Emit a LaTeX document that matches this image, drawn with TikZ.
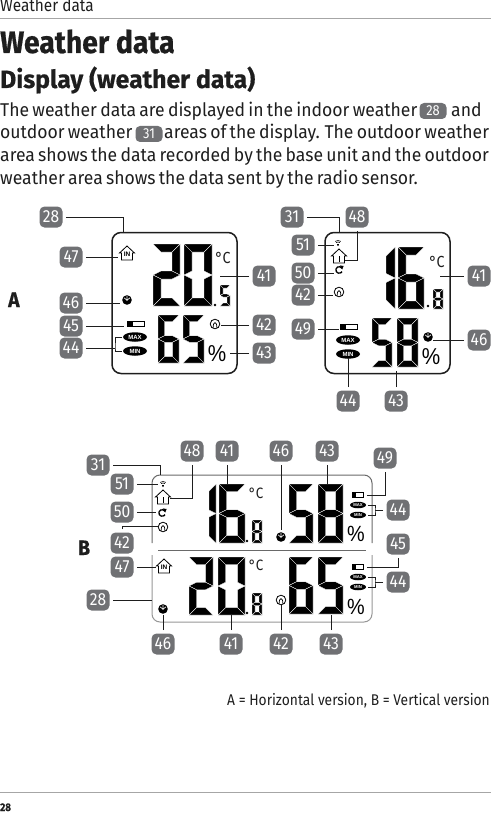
\documentclass[tikz,border=0pt]{standalone}
\usepackage{fontspec}
\setmainfont{Fira Sans}[FakeStretch=.89,BoldFeatures={FakeBold=.35}]
\newfontfamily\hA{Fira Sans}[FakeStretch=.915,BoldFeatures={FakeBold=.6}]
\newfontfamily\hB{Fira Sans}[FakeStretch=.99,BoldFeatures={FakeBold=.5}]
\newfontfamily\bodyf{Fira Sans}[FakeStretch=.95,WordSpace=.7]
\newfontfamily\lcdfont{Liberation Sans}
\usetikzlibrary{shapes.geometric,arrows.meta}
\definecolor{bdg}{RGB}{112,113,116}
\definecolor{ink}{RGB}{30,30,30}
\definecolor{pline}{RGB}{105,105,105}
\definecolor{pline2}{RGB}{150,150,150}
\newcommand\fs[1]{\fontsize{#1}{#1}\selectfont}
\tikzset{
  x=1pt,y=-1pt,
  badge/.style={fill=bdg,text=white,rounded corners=5pt,minimum width=23pt,minimum height=21pt,inner sep=0pt,outer sep=3.5pt,font=\fs{17.5}},
  ibadge/.style={fill=bdg,text=white,rounded corners=4.5pt,minimum width=27pt,minimum height=16pt,inner sep=0pt,font=\fs{14.5}},
  leader/.style={draw=ink,line width=.8pt},
  txt/.style={inner sep=0pt,anchor=base west,text=ink},
  bodytxt/.style={txt,font=\bodyf\fs{18.5}},
  panel/.style={draw=ink,line width=1.5pt,rounded corners=9pt},
  pill/.style={ellipse,fill=black,text=white,inner sep=0pt,outer sep=1.5pt},
  pillA/.style={pill,minimum width=24pt,minimum height=9.5pt,font=\lcdfont\bfseries\fs{6}},
  pillB/.style={pill,minimum width=16pt,minimum height=6.5pt,font=\lcdfont\bfseries\fs{4.2}},
  degA/.style={font=\fs{16},text=ink},
  degB/.style={font=\fs{15},text=ink},
  seg/.style={fill=black,draw=white,line width=.35pt},
  houseicon/.pic={\draw[line width=.8pt,line join=miter,fill=white] (-5.5,7)--(-5.5,0)--(-7.5,0)--(0,-7)--(7.5,0)--(5.5,0)--(5.5,7)--cycle;},
  clockicon/.pic={\fill (0,0) circle (4.8); \draw[white,line width=.6pt] (0,-3.8)--(0,.5) (-2.8,-2.2)--(0,.5)--(2.8,-2.2);},
  ringicon/.pic={\draw[line width=.8pt] (0,0) circle (4.8); \draw[line width=.7pt] (-2,4.2)--(-1.5,.2) arc (180:360:1.5)--(2,4.2);},
  refreshicon/.pic={\draw[line width=1.3pt] (3,-1.7) arc (-30:-330:3.3) ; \fill (.8,-4.6)--(4.6,-4)--(3.2,-.4)--cycle;},
  wifiicon/.pic={\foreach \r in {1.9,3.4,4.9}{\draw[line width=.6pt] (0,2.4)+(-125:\r) arc (-125:-55:\r);} \fill (0,2.4) circle (.7);},
}
\newcommand\dg[6]{\begin{scope}[shift={(#1,#2)}]
 \pgfmathsetmacro\W{#3}\pgfmathsetmacro\H{#4}\pgfmathsetmacro\T{#5}
 \pgfmathsetmacro\Wi{\W-\T}\pgfmathsetmacro\Hm{\H/2}\pgfmathsetmacro\Hu{\H/2-\T/2}\pgfmathsetmacro\Hd{\H/2+\T/2}\pgfmathsetmacro\Hi{\H-\T}
 \foreach \s in {#6}{\csname sg\s\endcsname}
 \end{scope}}
\newcommand\sga{\path[seg] (0,0)--(\W,0)--(\Wi,\T)--(\T,\T)--cycle;}
\newcommand\sgf{\path[seg] (0,0)--(\T,\T)--(\T,\Hu)--(0,\Hm)--cycle;}
\newcommand\sgb{\path[seg] (\W,0)--(\W,\Hm)--(\Wi,\Hu)--(\Wi,\T)--cycle;}
\newcommand\sgg{\path[seg] (0,\Hm)--(\T,\Hu)--(\Wi,\Hu)--(\W,\Hm)--(\Wi,\Hd)--(\T,\Hd)--cycle;}
\newcommand\sge{\path[seg] (0,\Hm)--(\T,\Hd)--(\T,\Hi)--(0,\H)--cycle;}
\newcommand\sgc{\path[seg] (\W,\Hm)--(\W,\H)--(\Wi,\Hi)--(\Wi,\Hd)--cycle;}
\newcommand\sgd{\path[seg] (0,\H)--(\T,\Hi)--(\Wi,\Hi)--(\W,\H)--cycle;}
\newcommand\batt[4]{\draw[line width=.6pt] (#1,#2-#4/2) rectangle (#1+#3,#2+#4/2); \fill (#1,#2-#4/2) rectangle (#1+#3*.35,#2+#4/2); \fill (#1+#3,#2-#4/4) rectangle (#1+#3+1,#2+#4/4);}
\newcommand\bd[4]{\node[badge] (#1) at (#2,#3) {#4};}
\begin{document}
\begin{tikzpicture}
\useasboundingbox (0,0) rectangle (491,813);
% header
\node[txt,font=\fs{17.3}] (hd) at (0,12) {Weather data};
\draw[draw=gray!70,line width=.7pt] (0,18)--(491,18);
\node[txt,font=\hA\fs{31}\bfseries] (t1) at (0,53) {Weather data};
\node[txt,font=\hB\fs{25}\bfseries] (t2) at (0,88) {Display (weather data)};
\node[bodytxt] (l1) at (0,117) {The weather data are displayed in the indoor weather};
\node[ibadge] (i28) at (433,111) {28};
\node[bodytxt] (l1b) at (451,117) {and};
\node[bodytxt] (l2a) at (0,139) {outdoor weather};
\node[ibadge] (i31) at (149,134) {31};
\node[bodytxt] (l2b) at (164,139) {areas of the display. The outdoor weather};
\node[bodytxt] (l3) at (0,161.5) {area shows the data recorded by the base unit and the outdoor};
\node[bodytxt] (l4) at (0,184) {weather area shows the data sent by the radio sensor.};
\node[txt,font=\hA\fs{21}\bfseries] (lA) at (8,307) {A};
\node[txt,font=\hA\fs{21}\bfseries] (lB) at (78,555) {B};
\node[txt,font=\fs{15.5},anchor=base east] (foot) at (490,705) {A = Horizontal version, B = Vertical version};
\draw[draw=gray!70,line width=.7pt] (0,792)--(491,792);
\node[txt,font=\fs{11}\bfseries] (pg) at (0,811) {28};

% ---------- Panel A left
\node[panel,minimum width=125pt,minimum height=141pt,inner sep=0pt] (PA) at (174.5,303) {};
\dg{153}{244}{27}{62}{8}{a,b,g,e,d}
\dg{184}{244}{28}{62}{8}{a,b,c,d,e,f}
\fill (215,305) circle (1.3);
\dg{220}{285}{10}{21}{3}{a,f,g,c,d}
\dg{158}{315}{21}{48}{6.5}{a,f,g,e,c,d}
\dg{183}{315}{21}{48}{6.5}{a,f,g,c,d}
\node[degA] (Ac) at (223,258) {°C};
\node[font=\lcdfont\fs{23},xscale=.9] (Ap) at (217,354) {\%};
\pic at (127,253) {houseicon};
\node[font=\lcdfont\bfseries\fs{6.5}] (Ain) at (127,254) {IN};
\pic at (127,300) {clockicon};
\batt{127}{324}{17}{5}
\node[pillA] (Amax) at (135,337) {MAX};
\node[pillA] (Amin) at (135,351) {MIN};
\pic at (215,324) {ringicon};
\bd{a28}{51}{217}{28}\bd{a47}{71}{257}{47}\bd{a46}{71}{303}{46}\bd{a45}{71}{326}{45}\bd{a44}{71}{348}{44}
\bd{a41}{264}{276}{41}\bd{a42}{264}{325}{42}\bd{a43}{264}{353}{43}
\coordinate (A28t) at (123,232);
\coordinate (A47t) at (118,257);
\coordinate (A46t) at (120,303);
\coordinate (A45t) at (124,326);
\coordinate (A44t) at (115,348);
\coordinate (A41t) at (220,276);
\coordinate (A42t) at (221,325);
\coordinate (A43t) at (230,353);
\draw[leader] (a28.east)-|(A28t);
\foreach \p/\q in {a47/A47t,a46/A46t,a45/A45t,a44/A44t,a41/A41t,a42/A42t,a43/A43t}{\draw[leader] (\p)--(\q);}
\draw[leader] (Amax.west)-|(A44t)|-(Amin.west);

% ---------- Panel A right
\node[panel,minimum width=125pt,minimum height=141pt,inner sep=0pt] (PB) at (387.5,303) {};
\dg{385}{247}{10}{62}{9}{b,c}
\dg{398}{247}{26}{62}{8}{a,f,g,e,c,d}
\fill (428,306) circle (1.3);
\dg{433}{289}{10}{20}{3}{a,b,c,d,e,f,g}
\dg{372}{318}{20}{49}{6.5}{a,f,g,c,d}
\dg{397}{318}{21}{49}{6.5}{a,b,c,d,e,f,g}
\node[degA] (Bc) at (437,262) {°C};
\node[font=\lcdfont\fs{23},xscale=.9] (Bp) at (431,357) {\%};
\pic at (338,243) {wifiicon};
\pic at (339,256) {houseicon};
\draw[line width=.7pt] (339,256)--(339,262);
\pic at (339,270) {refreshicon};
\pic at (339,292) {ringicon};
\batt{340}{327}{17}{5}
\node[pillA] (Bmax) at (348,340) {MAX};
\node[pillA] (Bmin) at (348,354) {MIN};
\pic at (428,337) {clockicon};
\bd{b31}{292}{217}{31}\bd{b48}{357}{217}{48}\bd{b51}{303}{245}{51}\bd{b50}{303}{273}{50}\bd{b42}{303}{295}{42}\bd{b49}{303}{329}{49}
\bd{b44}{348}{401}{44}\bd{b43}{396}{401}{43}\bd{b41}{479}{276}{41}\bd{b46}{479}{340}{46}
\coordinate (B31t) at (339,232);
\coordinate (B48t) at (345,260);
\coordinate (B51t) at (334,245);
\coordinate (B50t) at (334,273);
\coordinate (B42t) at (333,295);
\coordinate (B49t) at (339,329);
\coordinate (B44t) at (348,358);
\coordinate (B43t) at (396,371);
\coordinate (B41t) at (440,276);
\coordinate (B46t) at (433,340);
\draw[leader] (b31.east)-|(B31t);
\draw[leader] (b48.south)|-(B48t);
\foreach \p/\q in {b51/B51t,b50/B50t,b42/B42t,b49/B49t,b44/B44t,b43/B43t,b41/B41t,b46/B46t}{\draw[leader] (\p)--(\q);}

% ---------- Panel B
\draw[draw=pline,line width=1pt,rounded corners=8pt] (152,543)--(152,475)--(372,475)--(372,543);
\draw[draw=pline2,line width=1pt,rounded corners=8pt] (152,555)--(152,622)--(372,622)--(372,555);
\draw[draw=pline,line width=1pt] (158,550)--(366,550);
\dg{208}{484}{8}{59}{7}{b,c}
\dg{219}{484}{26}{59}{7.5}{a,f,g,e,c,d}
\fill (247,541) circle (1.3);
\dg{252}{520}{10}{23}{3}{a,b,c,d,e,f,g}
\dg{289}{484}{24}{59}{7.5}{a,f,g,c,d}
\dg{318}{484}{25}{59}{7.5}{a,b,c,d,e,f,g}
\dg{189}{557}{24}{58}{7.5}{a,b,g,e,d}
\dg{218}{557}{27}{58}{7.5}{a,b,c,d,e,f}
\fill (247,613) circle (1.3);
\dg{252}{593}{10}{22}{3}{a,b,c,d,e,f,g}
\dg{289}{557}{24}{57}{7.5}{a,f,g,e,c,d}
\dg{318}{557}{25}{57}{7.5}{a,f,g,c,d}
\node[degB] (Cc1) at (256,493) {°C};
\node[degB] (Cc2) at (256,565) {°C};
\node[font=\lcdfont\fs{22},xscale=.9] (Cp1) at (356,534) {\%};
\node[font=\lcdfont\fs{22},xscale=.9] (Cp2) at (356,607) {\%};
\pic at (163,484) {wifiicon};
\pic at (163,497) {houseicon};
\draw[line width=.7pt] (163,497)--(163,503);
\pic at (162,513) {refreshicon};
\pic at (163,527) {ringicon};
\pic at (164,566) {houseicon};
\node[font=\lcdfont\bfseries\fs{6.5}] (Cin) at (164,567) {IN};
\pic at (163,609) {clockicon};
\pic at (281,537) {clockicon};
\pic at (281,600) {ringicon};
\batt{352}{495}{11}{4.5}
\batt{352}{567}{11}{4.5}
\node[pillB] (Cmax1) at (358,505) {MAX};
\node[pillB] (Cmin1) at (358,515) {MIN};
\node[pillB] (Cmax2) at (358,577) {MAX};
\node[pillB] (Cmin2) at (358,587) {MIN};
\bd{c31}{98}{465}{31}\bd{c48}{192}{451}{48}\bd{c41}{227}{451}{41}\bd{c46}{281}{451}{46}\bd{c43}{327}{451}{43}\bd{c49}{385}{458}{49}
\bd{c51}{122}{484}{51}\bd{c50}{122}{512}{50}\bd{c42}{122}{543}{42}\bd{c47}{122}{567}{47}\bd{c28}{98}{600}{28}
\bd{d46}{163}{644}{46}\bd{d41}{231}{644}{41}\bd{d42}{281}{644}{42}\bd{d43}{331}{644}{43}
\bd{c44}{398}{510}{44}\bd{c45}{398}{544}{45}\bd{d44}{398}{582}{44}
\coordinate (C31t) at (160,475);
\coordinate (C48t) at (170,498);
\coordinate (C41t) at (227,484);
\coordinate (C46t) at (281,530);
\coordinate (C43t) at (327,484);
\coordinate (C49t) at (367,495);
\coordinate (C51t) at (158,484);
\coordinate (C50t) at (156,512);
\coordinate (C42t) at (158,526);
\coordinate (C47t) at (156,567);
\coordinate (C28t) at (152,600);
\coordinate (D46t) at (163,615);
\coordinate (D41t) at (231,615);
\coordinate (D42t) at (281,605);
\coordinate (D43t) at (331,615);
\coordinate (C44t) at (375,510);
\coordinate (C45t) at (367,567);
\coordinate (D44t) at (375,582);
\draw[leader] (c31.east)-|(C31t);
\draw[leader] (c48.south)|-(C48t);
\draw[leader] (c49.south)|-(C49t);
\draw[leader] (c42.north)|-(C42t);
\draw[leader] (c45.south)|-(C45t);
\foreach \p/\q in {c41/C41t,c46/C46t,c43/C43t,c51/C51t,c50/C50t,c47/C47t,c28/C28t,d46/D46t,d41/D41t,d42/D42t,d43/D43t,c44/C44t,d44/D44t}{\draw[leader] (\p)--(\q);}
\draw[leader] (Cmax1.east)-|(C44t)|-(Cmin1.east);
\draw[leader] (Cmax2.east)-|(D44t)|-(Cmin2.east);
\end{tikzpicture}
\end{document}
